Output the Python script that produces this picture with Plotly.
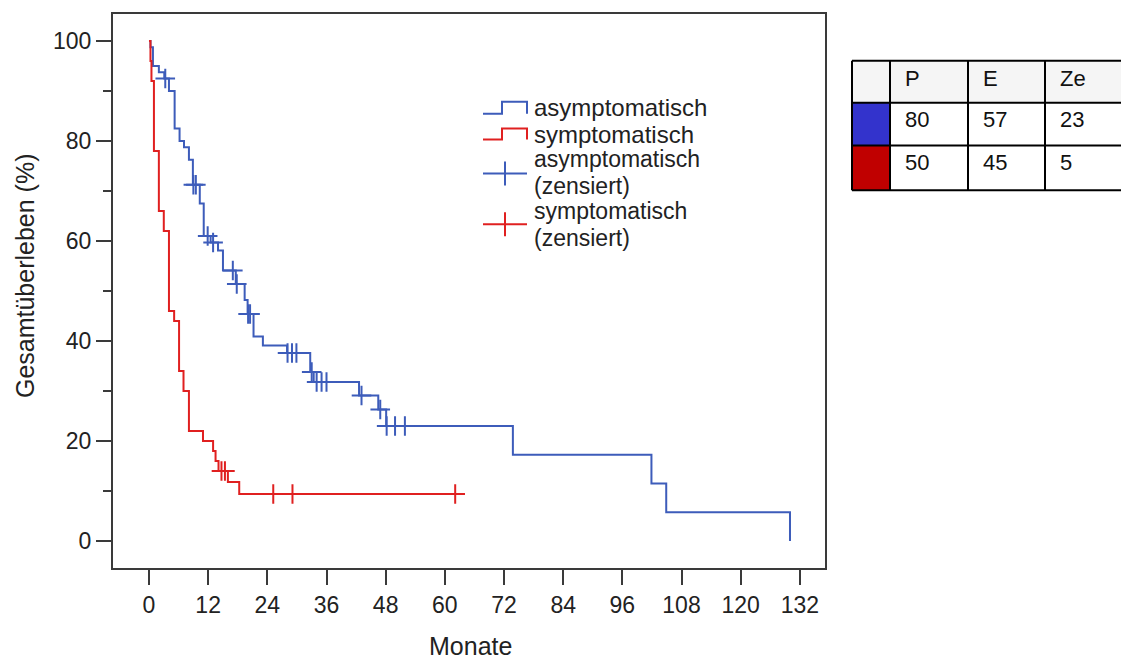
import plotly.graph_objects as go

# Kaplan-Meier step data (months, survival in %)
blue_time = [0, 0.3, 0.8, 2.0, 3.1, 4.05, 5.2, 6.2, 7.1, 8.1, 8.9, 10.3, 11.1, 12.5,
             14.0, 15.0, 17.6, 19.4, 20.0, 21.2, 23.1, 28.0, 32.7, 33.4, 42.6, 46.5,
             48.1, 73.8, 101.9, 104.9, 130.0]
blue_surv = [100, 98.75, 95.0, 93.75, 92.5, 90.0, 82.5, 80.0, 78.75, 76.25, 71.25, 67.5,
             61.0, 59.7, 58.1, 54.1, 51.4, 48.2, 45.4, 40.9, 39.1, 37.6, 33.8, 31.8,
             29.1, 26.3, 23.0, 17.25, 11.5, 5.75, 0.0]
blue_censored = [3.3, 9.0, 9.5, 11.9, 13.0, 17.0, 17.8, 20.1, 20.5, 28.1, 29.0, 29.9,
                 33.0, 34.0, 35.0, 36.0, 43.1, 46.9, 48.2, 49.9, 51.9]

red_time = [0, 0.3, 0.5, 1.0, 2.0, 3.0, 4.05, 5.1, 6.1, 7.0, 8.1, 10.95, 13.0, 13.5,
            14.1, 16.0, 18.3]
red_surv = [100, 96, 92, 78, 66, 62, 46, 44, 34, 30, 22, 20, 18, 16, 14, 11.8, 9.4]
red_censored = [14.7, 15.4, 25.2, 29.1, 62.1]

group_names = ["asymptomatisch", "symptomatisch"]
table_header = ["P", "E", "Ze"]
table_rows = [["80", "57", "23"], ["50", "45", "5"]]

BLUE = "#3d5cba"
RED = "#e02020"
SWATCH = ["#3333cc", "#c00000"]
AXIS = "#3a3a3a"
TEXT = "#222222"
FONT = "Arial, Liberation Sans, sans-serif"

W, H = 1121, 659
ML, MR, MT, MB = 113, W - 825, 12, H - 568


def px(x):
    return (x - ML) / (W - ML - MR)


def py(y):
    return (H - MB - y) / (H - MT - MB)


def surv_at(times, surv, t):
    s = surv[0]
    for ti, si in zip(times, surv):
        if ti <= t:
            s = si
    return s


fig = go.Figure()

for times, surv, cens, color in [(blue_time, blue_surv, blue_censored, BLUE),
                                 (red_time, red_surv, red_censored, RED)]:
    xs = list(times)
    ys = list(surv)
    if cens and max(cens) > xs[-1]:
        xs.append(max(cens))
        ys.append(ys[-1])
    fig.add_trace(go.Scatter(x=xs, y=ys, mode="lines", line=dict(color=color, width=2, shape="hv"),
                             showlegend=False, hoverinfo="skip"))
    fig.add_trace(go.Scatter(x=cens, y=[surv_at(times, surv, t) for t in cens], mode="markers",
                             marker=dict(symbol="cross-thin", size=14, color=color,
                                         line=dict(color=color, width=2)),
                             showlegend=False, hoverinfo="skip"))

shapes = []
annotations = []


def line(x0, y0, x1, y1, color, width=2):
    shapes.append(dict(type="line", xref="paper", yref="paper", x0=px(x0), y0=py(y0),
                       x1=px(x1), y1=py(y1), line=dict(color=color, width=width)))


def text(x, y, s, size=25, color=TEXT, xanchor="left"):
    annotations.append(dict(x=px(x), y=py(y), xref="paper", yref="paper", text=s, showarrow=False,
                            xanchor=xanchor, yanchor="middle",
                            font=dict(family=FONT, size=size, color=color)))


# legend inside the plot
for (ylow, yhigh), color in [((112, 100), BLUE), ((138, 127), RED)]:
    shapes.append(dict(type="path", xref="paper", yref="paper",
                       path=f"M {px(483)},{py(ylow)} L {px(502)},{py(ylow)} L {px(502)},{py(yhigh)} "
                            f"L {px(527)},{py(yhigh)} L {px(527)},{py(ylow)}",
                       line=dict(color=color, width=2)))
for yc, color in [(172, BLUE), (223, RED)]:
    line(483, yc, 527, yc, color)
    line(505, yc - 12, 505, yc + 12, color)

LEG = 24
text(532, 106, group_names[0], size=LEG)
text(532, 133, group_names[1], size=LEG)
text(532, 158, group_names[0], size=23)
text(532, 185, "(zensiert)", size=23)
text(532, 210, group_names[1], size=23)
text(532, 237, "(zensiert)", size=23)

# summary table
cols = [852, 890, 968, 1045, 1122]
rows = [59, 101, 144, 189]
shapes.append(dict(type="rect", xref="paper", yref="paper", x0=px(cols[0]), x1=px(cols[-1]),
                   y0=py(rows[0]), y1=py(rows[1]), fillcolor="#f5f5f5", line=dict(width=0),
                   layer="below"))
for i, c in enumerate(SWATCH):
    shapes.append(dict(type="rect", xref="paper", yref="paper", x0=px(cols[0]), x1=px(cols[1]),
                       y0=py(rows[i + 1]), y1=py(rows[i + 2]), fillcolor=c, line=dict(width=0)))
for r in rows:
    line(cols[0], r, cols[-1], r, "#000000")
for c in cols:
    line(c, rows[0], c, rows[-1], "#000000")

for j, h in enumerate(table_header):
    text(cols[j + 1] + 13, 77, h, size=22, color="#111111")
for i, row in enumerate(table_rows):
    for j, v in enumerate(row):
        text(cols[j + 1] + 13, [118, 161][i], v, size=22, color="#111111")

# axis titles
text(470, 646, "Monate", xanchor="center")
annotations.append(dict(x=px(25), y=py(275), xref="paper", yref="paper", text="Gesamtüberleben (%)",
                        showarrow=False, textangle=-90, xanchor="center", yanchor="middle",
                        font=dict(family=FONT, size=25, color=TEXT)))

fig.update_layout(
    width=W, height=H,
    margin=dict(l=ML, r=MR, t=MT, b=MB),
    paper_bgcolor="white", plot_bgcolor="white",
    shapes=shapes, annotations=annotations,
    font=dict(family=FONT, size=23, color=TEXT),
    xaxis=dict(range=[-7.3, 137.1], tick0=0, dtick=12, showgrid=False, zeroline=False,
               showline=True, linecolor=AXIS, linewidth=2, mirror=True,
               ticks="outside", ticklen=15, tickwidth=2, tickcolor=AXIS,
               tickfont=dict(family=FONT, size=23, color=TEXT)),
    yaxis=dict(range=[-5.4, 105.4], tick0=0, dtick=20, showgrid=False, zeroline=False,
               showline=True, linecolor=AXIS, linewidth=2, mirror=True,
               ticks="outside", ticklen=15, tickwidth=2, tickcolor=AXIS,
               minor=dict(dtick=10, ticks="outside", ticklen=8, tickwidth=2, tickcolor=AXIS,
                          showgrid=False),
               tickfont=dict(family=FONT, size=23, color=TEXT)),
)

fig.write_html("out.html")
